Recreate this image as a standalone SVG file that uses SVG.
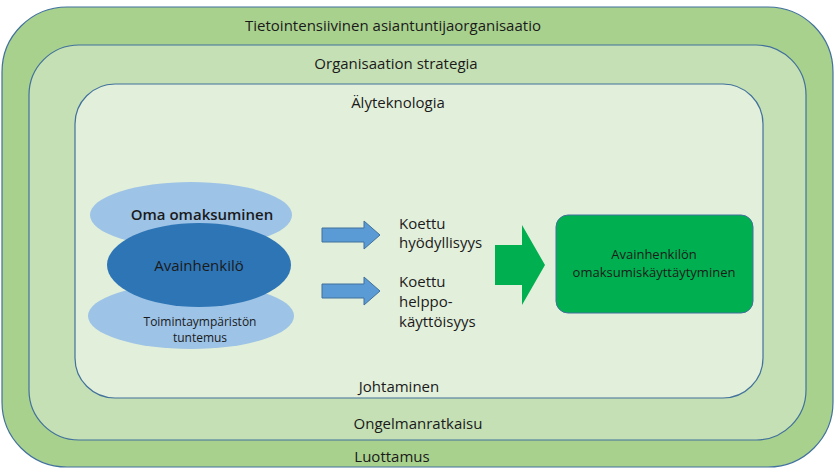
<svg xmlns="http://www.w3.org/2000/svg" width="840" height="473" viewBox="0 0 840 473">
<style>
text{font-family:"Open Sans","Liberation Sans",sans-serif;fill:#1a1a1a;text-anchor:middle}
.ring{stroke:#41719c;stroke-width:1.2}
.blue{fill:#5b9bd5;stroke:#41719c;stroke-width:1}
</style>
<rect width="840" height="473" fill="#fff"/>
<g id="outer"><rect class="ring" x="2" y="7" width="831" height="460" rx="65" fill="#a9d18e"/>
<text x="393" y="31" font-size="15">Tietointensiivinen asiantuntijaorganisaatio</text>
<text x="392" y="462" font-size="15">Luottamus</text></g>
<g id="middle"><rect class="ring" x="29" y="45" width="777" height="395" rx="50" fill="#c5e0b4"/>
<text x="396" y="69" font-size="15">Organisaation strategia</text>
<text x="418" y="429" font-size="15">Ongelmanratkaisu</text></g>
<g id="inner"><rect class="ring" x="75" y="84" width="688" height="314" rx="40" fill="#e2efda"/>
<text x="398" y="108" font-size="15">Älyteknologia</text>
<text x="399" y="392" font-size="15">Johtaminen</text></g>
<g id="oma"><ellipse cx="191" cy="215" rx="101" ry="33" fill="#9dc3e6"/>
<text x="202" y="220" font-size="15" font-weight="600">Oma omaksuminen</text></g>
<g id="toim"><ellipse cx="191" cy="316" rx="103" ry="33" fill="#9dc3e6"/>
<text x="200" y="326" font-size="12">Toimintaympäristön</text>
<text x="200" y="342" font-size="12">tuntemus</text></g>
<g id="avain"><ellipse cx="199" cy="265" rx="92" ry="42" fill="#2e75b6"/>
<text x="199" y="271" font-size="15">Avainhenkilö</text></g>
<g id="hyo"><text x="399" y="229" font-size="15" style="text-anchor:start">Koettu</text>
<text x="399" y="248" font-size="15" style="text-anchor:start">hyödyllisyys</text></g>
<g id="help"><text x="399" y="287" font-size="15" style="text-anchor:start">Koettu</text>
<text x="399" y="307" font-size="15" style="text-anchor:start">helppo-</text>
<text x="399" y="327" font-size="15" style="text-anchor:start">käyttöisyys</text></g>
<g id="kayt"><rect x="556" y="215" width="197" height="98" rx="12" fill="#00b050" stroke="#41719c" stroke-width="1"/>
<text x="654" y="259" font-size="13">Avainhenkilön</text>
<text x="654" y="277" font-size="13">omaksumiskäyttäytyminen</text></g>
<g id="connectors">
<path class="blue" d="M322 228H364V221L380 235L364 249V242H322Z"/>
<path class="blue" d="M322 284H364V277L380 291L364 305V298H322Z"/>
<path d="M495 245H522V225L545 265L522 305V285H495Z" fill="#00b050"/>
</g>
</svg>
